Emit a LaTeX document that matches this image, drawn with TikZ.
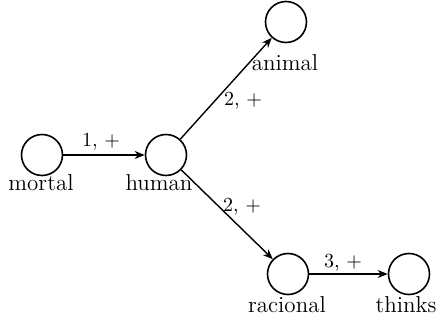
\documentclass[tikz,border=0pt]{standalone}
\usetikzlibrary{arrows.meta}
\begin{document}
\begin{tikzpicture}[x=0.5pt,y=-0.5pt,
  state/.style={circle,draw,line width=0.8pt,minimum size=20.5pt,inner sep=0pt},
  lab/.style={anchor=base,inner sep=0pt,font=\fontsize{11.5}{13}\selectfont},
  elab/.style={anchor=base,inner sep=0pt,font=\normalsize},
  conn/.style={line width=0.7pt,-{Stealth[length=5pt,width=4pt]}}]
\useasboundingbox (0,0) rectangle (436,322);
\node[state] (mortal) at (42,155) {};
\node[state] (human) at (166,155) {};
\node[state] (animal) at (286,22) {};
\node[state] (racional) at (288,274) {};
\node[state] (thinks) at (409,274) {};
\node[lab] (lmortal) at (41,191) {mortal};
\node[lab] (lhuman) at (159,191) {human};
\node[lab] (lanimal) at (285,70) {animal};
\node[lab] (lracional) at (287,313) {racional};
\node[lab] (lthinks) at (406,313) {thinks};
\draw[conn] (mortal) -- (human);
\draw[conn] (human) -- (animal);
\draw[conn] (human) -- (racional);
\draw[conn] (racional) -- (thinks);
\node[elab] (e1) at (101,146) {1, +};
\node[elab] (e2) at (243,105) {2, +};
\node[elab] (e3) at (242,212) {2, +};
\node[elab] (e4) at (343,268) {3, +};
\end{tikzpicture}
\end{document}
